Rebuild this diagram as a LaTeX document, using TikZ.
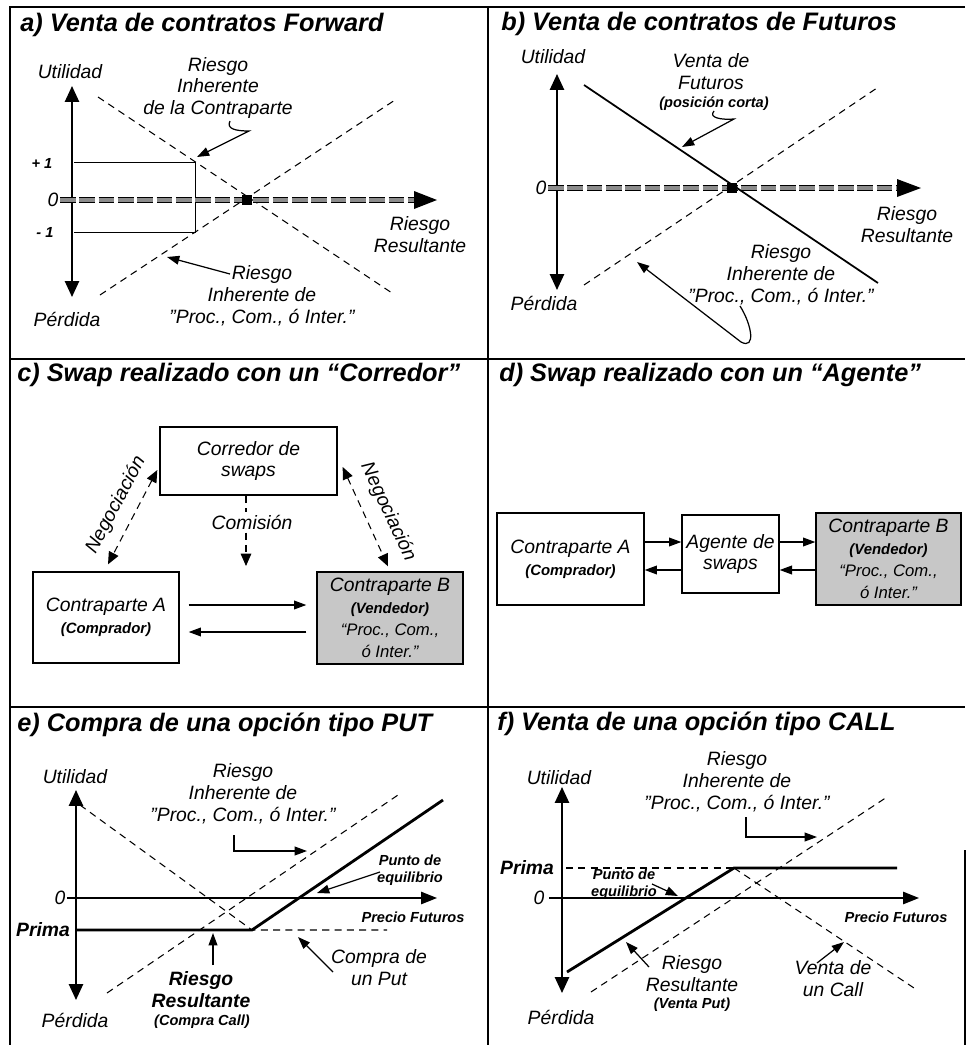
\documentclass[tikz,border=0pt]{standalone}
\usepackage{fontspec}
\setmainfont{Liberation Sans}
\usetikzlibrary{arrows.meta,calc}
\newcommand{\chico}{\fontsize{8.5}{10}\selectfont\bfseries}
\newcommand{\medio}{\fontsize{9.5}{11}\selectfont}
\tikzset{
  ttl/.style={anchor=west, inner sep=0pt, font=\fontsize{14.4}{16}\selectfont\bfseries\itshape},
  lbl/.style={inner sep=0pt, align=center, font=\fontsize{11}{12.5}\selectfont\itshape},
  lblb/.style={inner sep=0pt, align=center, font=\fontsize{11}{12.5}\selectfont\bfseries\itshape},
  sml/.style={inner sep=0pt, align=center, font=\fontsize{8.3}{9.6}\selectfont\bfseries\itshape},
  eje/.style={line width=1.1pt, {Triangle[length=9pt,width=8pt]}-{Triangle[length=9pt,width=8pt]}},
  ejex/.style={line width=0.8pt, -{Triangle[length=9pt,width=7pt]}},
  dsh/.style={line width=0.6pt, dash pattern=on 4pt off 3pt},
  ptr/.style={line width=0.7pt, -{Triangle[length=7pt,width=5pt]}},
  dptr/.style={dsh, {Triangle[length=7pt,width=6pt]}-{Triangle[length=7pt,width=6pt]}},
  dbl/.style={line width=0.6pt, double=black!45, double distance=1.8pt, dash pattern=on 9pt off 2pt},
  caja/.style={draw, line width=0.8pt, inner sep=0pt, align=center, font=\fontsize{11}{12.5}\selectfont\itshape},
  gris/.style={caja, fill=black!22}
}
\begin{document}
\begin{tikzpicture}[x=0.02cm, y=-0.02cm]
\useasboundingbox (0,0) rectangle (967,1045);
% marco
\draw[line width=0.9pt] (965,7) -- (10,7) -- (10,1045);
\draw[line width=0.9pt] (488,7) -- (488,1045);
\draw[line width=0.9pt] (10,359) -- (965,359);
\draw[line width=0.9pt] (10,707) -- (965,707);
\draw[line width=0.9pt] (965,850) -- (965,1045);

% a) forward
\node[ttl] (ta) at (20,25) {a) Venta de contratos Forward};
\node[lbl] (ua) at (70,72) {Utilidad};
\node[lbl] (pa) at (67,319) {Pérdida};
\draw[eje] (72,86) -- (72,297);
\node[sml] (ma) at (42,163) {+ 1};
\node[lbl] (za) at (53,200) {0};
\node[sml] (na) at (45,232) {- 1};
\draw[line width=0.5pt] (74,162) -- (195,162) -- (195,232) -- (74,232);
\draw[dsh] (98,97) -- (392,293);
\draw[dsh] (100,295) -- (395,100);
\draw[dbl] (60,200) -- (416,200);
\fill (414,191) -- (437,200) -- (414,209) -- cycle;
\fill (242,195) rectangle (252,205);
\node[lbl] (ria) at (218,88) {Riesgo\\Inherente\\de la Contraparte};
\coordinate (ka1) at (230,121); \coordinate (ka2) at (197,157);
\draw[ptr] (ka1) .. controls (226,129) and (236,131) .. (249,131) -- (ka2);
\node[lbl] (rpa) at (262,296) {Riesgo\\Inherente de\\"Proc., Com., ó Inter."};
\coordinate (kb1) at (230,274); \coordinate (kb2) at (167,257);
\draw[ptr] (kb1) -- (kb2);
\node[lbl] (rra) at (420,235) {Riesgo\\Resultante};

% b) futuros
\node[ttl] (tb) at (501,24) {b) Venta de contratos de Futuros};
\node[lbl] (ub) at (553,57) {Utilidad};
\node[lbl] (pb) at (544,303) {Pérdida};
\draw[eje] (557,74) -- (557,290);
\node[lbl] (zb) at (541,188) {0};
\draw[dbl] (548,188) -- (899,188);
\fill (897,179) -- (921,188) -- (897,197) -- cycle;
\draw[line width=1pt] (584,85) -- (878,283);
\draw[dsh] (584,285) -- (877,88);
\fill (727,183) rectangle (737,193);
\node[lbl] (vfb) at (711,72) {Venta de\\Futuros};
\node[sml] (pcb) at (714,104) {(posición corta)};
\coordinate (kc1) at (714,111); \coordinate (kc2) at (682,147);
\draw[ptr] (kc1) .. controls (708,118) and (722,120) .. (734,119) -- (kc2);
\node[lbl] (rpb) at (781,275) {Riesgo\\Inherente de\\"Proc., Com., ó Inter."};
\node[lbl] (rrb) at (907,225) {Riesgo\\Resultante};
\coordinate (kd1) at (740,306); \coordinate (kd2) at (637,262);
\draw[ptr] (kd1) .. controls (752,325) and (756,350) .. (741,342) -- (kd2);

% c) corredor
\node[ttl] (tc) at (17,375) {c) Swap realizado con un “Corredor”};
\node[caja, minimum width=3.54cm, minimum height=1.36cm] (cc) at (248.5,461) {Corredor de\\swaps};
\node[caja, minimum width=2.92cm, minimum height=1.82cm] (ca) at (106,617.5) {Contraparte A\\{\chico (Comprador)}};
\node[gris, minimum width=2.92cm, minimum height=1.84cm] (cb) at (390,618) {Contraparte B\\{\chico (Vendedor)}\\{\medio “Proc., Com.,}\\{\medio ó Inter.”}};
\coordinate (cup) at (0,605); \coordinate (cdn) at (0,632);
\draw[ptr] ($(ca.east |- cup)+(9,0)$) -- ($(cb.west |- cup)+(-10,0)$);
\draw[ptr] ($(cb.west |- cdn)+(-10,0)$) -- ($(ca.east |- cdn)+(9,0)$);
\draw[dptr] ($(cc.west)+(-2,9)$) -- ($(ca.north)+(2,-7)$);
\draw[dptr] ($(cc.east)+(5,6)$) -- ($(cb.north)+(-2,-5)$);
\node[lbl, rotate=62] (ngi) at (116,505) {Negociación};
\node[lbl, rotate=-65] (ngd) at (388,512) {Negociación};
\coordinate (cmt) at (246,566);
\draw[dsh, -{Triangle[length=7pt,width=6pt]}] (cc.south -| cmt) -- (cmt);
\node[lbl, fill=white, inner sep=1.5pt] (cm) at (252,522) {Comisión};

% d) agente
\node[ttl] (td) at (499,375) {d) Swap realizado con un “Agente”};
\node[caja, minimum width=2.94cm, minimum height=1.84cm] (da) at (570.5,559) {Contraparte A\\{\chico (Comprador)}};
\node[caja, minimum width=1.94cm, minimum height=1.56cm] (dg) at (730.5,554) {Agente de\\swaps};
\node[gris, minimum width=2.9cm, minimum height=1.84cm] (db) at (888.5,559) {Contraparte B\\{\chico (Vendedor)}\\{\medio “Proc., Com.,}\\{\medio ó Inter.”}};
\coordinate (dup) at (0,542); \coordinate (ddn) at (0,570);
\draw[ptr] (da.east |- dup) -- (dg.west |- dup);
\draw[ptr] (dg.west |- ddn) -- (da.east |- ddn);
\draw[ptr] (dg.east |- dup) -- (db.west |- dup);
\draw[ptr] (db.west |- ddn) -- (dg.east |- ddn);

% e) compra put
\node[ttl] (te) at (17,725) {e) Compra de una opción tipo PUT};
\node[lbl] (ue) at (75,777) {Utilidad};
\node[lbl] (pe) at (75,1020) {Pérdida};
\draw[eje] (76,790) -- (76,1000);
\node[lbl] (ze) at (60,898) {0};
\draw[ejex] (67,898) -- (437,898);
\node[sml] (fe) at (413,917) {Precio Futuros};
\node[lblb] (pre) at (43,930) {Prima};
\draw[dsh] (80,805) -- (252,930) -- (387,930);
\draw[dsh] (107,993) -- (398,795);
\draw[line width=1.6pt] (77,930) -- (252,930) -- (443,800);
\node[lbl] (rpe) at (243,793.5) {Riesgo\\Inherente de\\"Proc., Com., ó Inter."};
\coordinate (ke1) at (234,835); \coordinate (ke2) at (307,851);
\draw[ptr] (ke1) |- (ke2);
\node[sml] (eqe) at (410,870) {Punto de\\equilibrio};
\coordinate (kf1) at (380,872); \coordinate (kf2) at (317,893);
\draw[ptr] (kf1) -- (kf2);
\node[lblb] (rre) at (201,989.5) {Riesgo\\Resultante};
\node[sml] (cce) at (202,1022) {(Compra Call)};
\coordinate (kg1) at (213,965); \coordinate (kg2) at (213,933);
\draw[ptr] (kg1) -- (kg2);
\node[lbl] (cpe) at (379,968) {Compra de\\un Put};
\coordinate (kh1) at (333,972); \coordinate (kh2) at (298,937);
\draw[ptr] (kh1) -- (kh2);

% f) venta call
\node[ttl] (tf) at (497,724) {f) Venta de una opción tipo CALL};
\node[lbl] (uf) at (559,778) {Utilidad};
\node[lbl] (pf) at (561,1017) {Pérdida};
\draw[eje] (562,787) -- (562,993);
\node[lbl] (rpf) at (737,782) {Riesgo\\Inherente de\\"Proc., Com., ó Inter."};
\coordinate (ki1) at (746,817); \coordinate (ki2) at (817,837);
\draw[ptr] (ki1) |- (ki2);
\node[lblb] (prf) at (527,868) {Prima};
\draw[dsh] (566,868) -- (734,868);
\node[lbl] (zf) at (539,898) {0};
\draw[ejex] (549,898) -- (919,898);
\node[sml] (ff) at (896,917) {Precio Futuros};
\draw[dsh] (734,868) -- (914,988);
\draw[dsh] (591,992) -- (887,797);
\draw[line width=1.6pt] (567,972) -- (734,868) -- (897,868);
\node[sml] (eqf) at (624,884) {Punto de\\equilibrio};
\coordinate (kj1) at (652,884); \coordinate (kj2) at (678,896);
\draw[ptr] (kj1) -- (kj2);
\node[lbl] (rrf) at (692,973.5) {Riesgo\\Resultante};
\node[sml] (vpf) at (692,1005) {(Venta Put)};
\coordinate (kk1) at (649,967); \coordinate (kk2) at (626,942);
\draw[ptr] (kk1) -- (kk2);
\node[lbl] (vcf) at (833,979) {Venta de\\un Call};
\coordinate (kl1) at (817,963); \coordinate (kl2) at (844,942);
\draw[ptr] (kl1) -- (kl2);
\end{tikzpicture}
\end{document}
